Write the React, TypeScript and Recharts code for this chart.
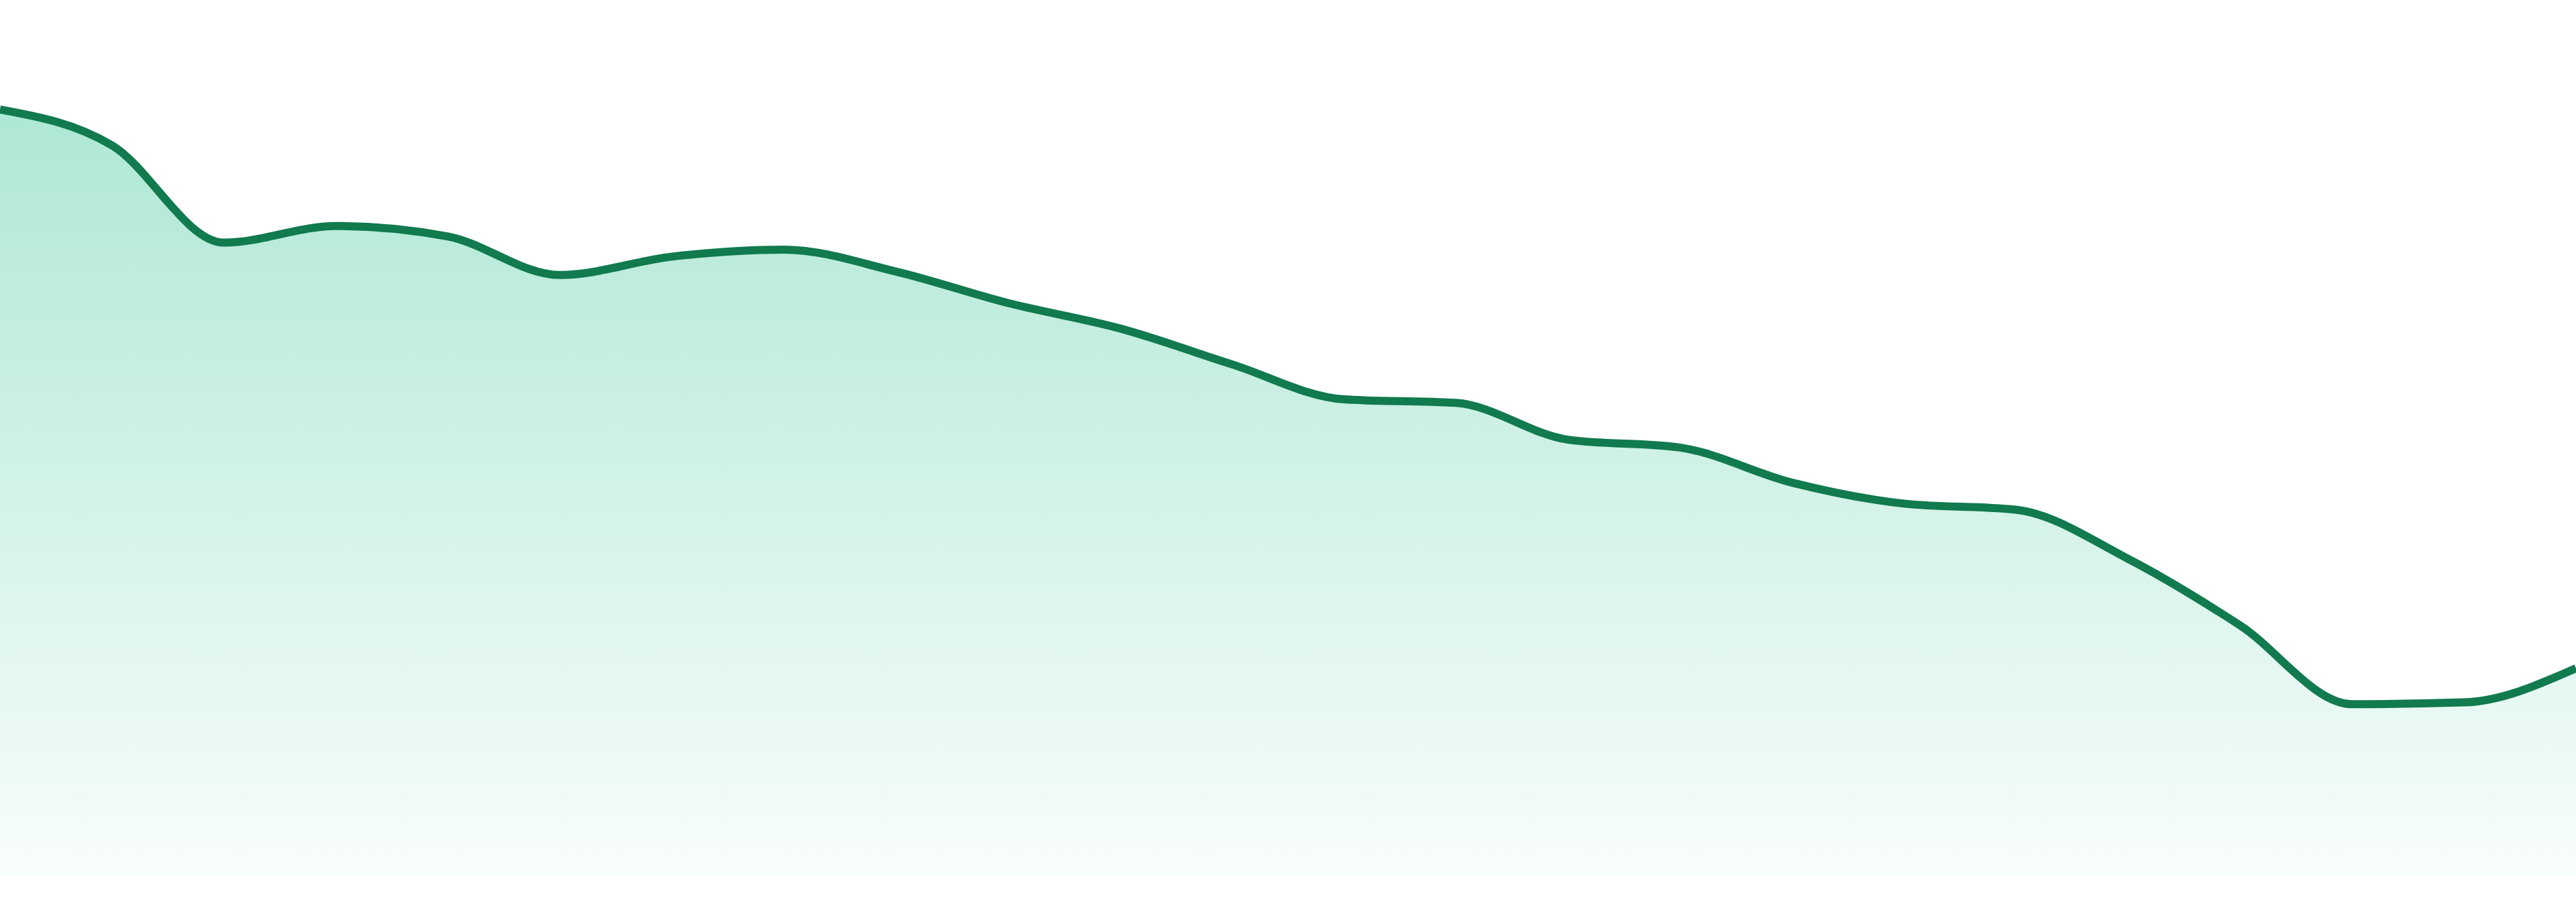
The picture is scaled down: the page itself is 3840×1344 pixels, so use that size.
import { Area, AreaChart, XAxis, YAxis } from "recharts";

const periods = [
  "P01", "P02", "P03", "P04", "P05", "P06", "P07", "P08",
  "P09", "P10", "P11", "P12", "P13", "P14", "P15", "P16",
  "P17", "P18", "P19", "P20", "P21", "P22", "P23", "P24",
];

const values = [
  87.5, 83.4, 72.3, 74.2, 73.0, 68.6, 70.7, 71.5,
  69.0, 65.4, 62.5, 58.4, 54.4, 54.0, 49.8, 48.9,
  44.9, 42.5, 41.8, 36.2, 28.6, 19.6, 19.8, 23.7,
];

const yDomain = [0, 100];

const data = periods.map((period, i) => ({ period, value: values[i] }));

export default function App() {
  return (
    <div style={{ position: "absolute", left: 0, top: 0, width: 3840, height: 1344, background: "#ffffff" }}>
      <AreaChart width={3840} height={1344} data={data} margin={{ top: 0, right: 0, bottom: 39, left: 0 }}>
        <defs>
          <linearGradient id="trend" x1="0" y1="0" x2="0" y2="1">
            <stop offset="0%" stopColor="#10b981" stopOpacity={0.34} />
            <stop offset="100%" stopColor="#10b981" stopOpacity={0.03} />
          </linearGradient>
        </defs>
        <XAxis dataKey="period" hide />
        <YAxis domain={yDomain} hide />
        <Area
          type="monotone"
          dataKey="value"
          stroke="#117a4f"
          strokeWidth={12}
          fill="url(#trend)"
          fillOpacity={1}
          dot={false}
          activeDot={false}
          isAnimationActive={false}
        />
      </AreaChart>
    </div>
  );
}
